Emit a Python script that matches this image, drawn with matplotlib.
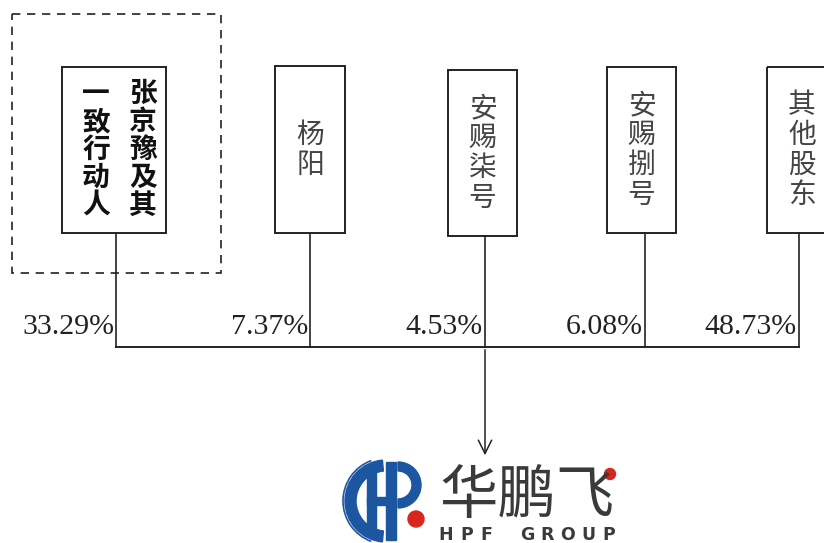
import matplotlib.pyplot as plt
from matplotlib.patches import Rectangle, Wedge, Circle, Arc

plt.rcParams['font.family'] = ['Noto Sans CJK SC', 'DejaVu Sans']

# shareholders and their stakes
holders = ['张京豫及其\n一致行动人', '杨阳', '安赐柒号', '安赐捌号', '其他股东']
stakes = ['33.29%', '7.37%', '4.53%', '6.08%', '48.73%']

# box geometry (pixel coords, y downwards)
box_x = [62, 275, 448, 607, 767]
box_w = [104, 70, 69, 69, 70]
box_top = [67, 66, 70, 67, 67]
box_bot = [233, 233, 236, 233, 233]
line_x = [116, 310, 485, 645, 799]
bus_y = 347

fig = plt.figure(figsize=(8.24, 5.43), dpi=100)
ax = fig.add_axes([0, 0, 1, 1])
ax.set_xlim(0, 824)
ax.set_ylim(543, 0)
ax.axis('off')

# dashed group around the first holder
ax.add_patch(Rectangle((12, 14), 209, 259, fill=False, ls=(0, (5, 4)), lw=1.2, color='#222222'))

for i, name in enumerate(holders):
    ax.add_patch(Rectangle((box_x[i], box_top[i]), box_w[i], box_bot[i] - box_top[i],
                           fill=False, lw=1.4, color='#222222'))
    cx = box_x[i] + box_w[i] / 2
    cy = (box_top[i] + box_bot[i]) / 2
    if i == 0:
        right, left = name.split('\n')
        ax.text(143, 150, '\n'.join(right), ha='center', va='center', fontsize=20,
                fontweight='bold', linespacing=1.0, color='#111111')
        ax.text(96, 150, '\n'.join(left), ha='center', va='center', fontsize=20,
                fontweight='bold', linespacing=1.0, color='#111111')
    else:
        ax.text(cx, cy, '\n'.join(name), ha='center', va='center', fontsize=20,
                linespacing=1.0, color='#444444')
    ax.plot([line_x[i], line_x[i]], [box_bot[i], bus_y], color='#222222', lw=1.2)
    ax.text(line_x[i] - 2, 334, stakes[i], ha='right', va='baseline', fontsize=21.5,
            family='Liberation Serif', color='#222222')

ax.plot([line_x[0], line_x[-1]], [bus_y, bus_y], color='#222222', lw=1.4)
ax.annotate('', xy=(485, 458), xytext=(485, bus_y),
            arrowprops=dict(arrowstyle='->', lw=1.1, color='#222222', mutation_scale=24))

# company logo
blue = '#1d56a0'
red = '#d9261c'
ax.add_patch(Wedge((386, 501), 41, 95, 265, width=11, color=blue))
ax.add_patch(Arc((386, 501), 86, 86, theta1=110, theta2=250, color=blue, lw=1.2))
ax.add_patch(Rectangle((367, 470), 9, 60, color=blue))
ax.add_patch(Rectangle((386, 462), 10, 78, color=blue))
ax.add_patch(Rectangle((367, 497), 28, 8, color=blue))
ax.add_patch(Wedge((398, 485), 23, -90, 90, width=9, color=blue))
ax.add_patch(Circle((416, 519), 8, color=red))
ax.text(527, 496, '华鹏飞', ha='center', va='center', fontsize=42, color='#3a3a3a')
ax.add_patch(Circle((610, 474), 5.5, color=red))
for j, ch in enumerate('HPF GROUP'):
    ax.text(446 + j * 20.3, 535, ch, ha='center', va='center', fontsize=12.5,
            fontweight='bold', family='DejaVu Sans', color='#3a3a3a')

fig.savefig('out.png', dpi=100)
